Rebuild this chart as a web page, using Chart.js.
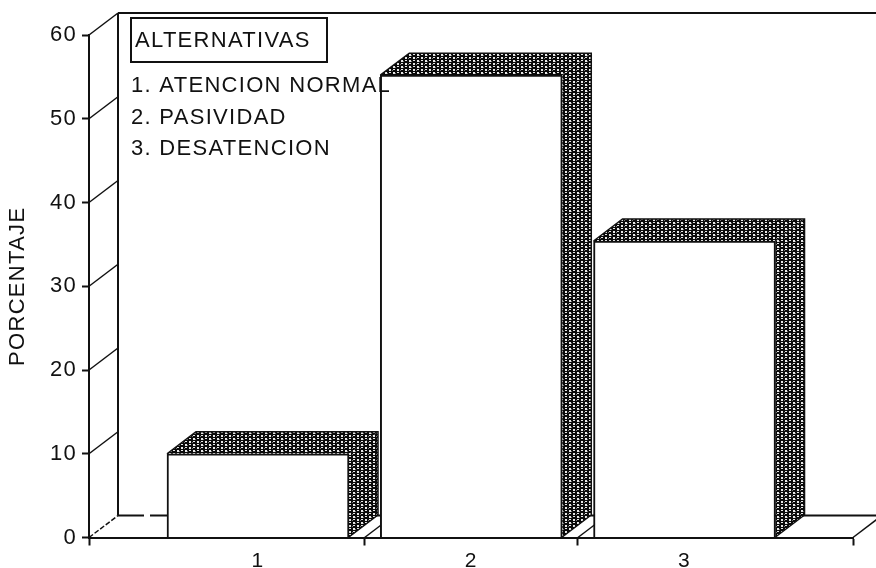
<!DOCTYPE html>
<html>
<head>
<meta charset="utf-8">
<script src="https://cdn.jsdelivr.net/npm/chart.js@4"></script>
<style>
html,body{margin:0;padding:0;background:#fff;overflow:hidden}
canvas{display:block}
</style>
</head>
<body>
<canvas id="c" width="876" height="568"></canvas>
<script>
const categories = [1, 2, 3];
const values = [10, 55.2, 35.4];
const yTicks = [0, 10, 20, 30, 40, 50, 60];
const yTitle = 'PORCENTAJE';
const legendTitle = 'ALTERNATIVAS';
const legendItems = ['1. ATENCION NORMAL', '2. PASIVIDAD', '3. DESATENCION'];

const DEPTH_X = 29, DEPTH_Y = 22;
const INK = '#111';
const FONT = '"Liberation Sans", Arial, sans-serif';

function stipple(ctx) {
  const t = document.createElement('canvas');
  t.width = 8; t.height = 6;
  const g = t.getContext('2d');
  g.fillStyle = '#0a0a0a'; g.fillRect(0, 0, 8, 6);
  g.fillStyle = '#e8e8e8';
  g.fillRect(1, 0, 2, 2);
  g.fillRect(5, 0, 2, 1);
  g.fillRect(5, 3, 2, 2);
  g.fillRect(1, 3, 2, 1);
  g.fillStyle = '#777';
  g.fillRect(3, 1, 1, 1);
  g.fillRect(0, 4, 1, 1);
  return ctx.createPattern(t, 'repeat');
}
function line(ctx, pts, w, dash) {
  ctx.save();
  ctx.strokeStyle = INK; ctx.lineWidth = w || 1.5;
  ctx.setLineDash(dash || []);
  ctx.beginPath();
  pts.forEach((p, i) => i ? ctx.lineTo(p[0], p[1]) : ctx.moveTo(p[0], p[1]));
  ctx.stroke();
  ctx.restore();
}
function face(ctx, pts, fill) {
  ctx.fillStyle = fill;
  ctx.beginPath();
  pts.forEach((p, i) => i ? ctx.lineTo(p[0], p[1]) : ctx.moveTo(p[0], p[1]));
  ctx.closePath();
  ctx.fill();
}

const depthPlugin = {
  id: 'depth',
  beforeDraw(chart) { chart.ctx.letterSpacing = '1.3px'; },
  beforeDatasetsDraw(chart) {
    const ctx = chart.ctx, x = chart.scales.x, y = chart.scales.y;
    const x0 = x.left, x1 = x.right, y0 = y.getPixelForValue(0), yTop = y.getPixelForValue(60);
    // back wall and floor
    line(ctx, [[x0 + DEPTH_X, y0 - DEPTH_Y], [x0 + DEPTH_X, yTop - DEPTH_Y]], 2);
    line(ctx, [[x0 + DEPTH_X, yTop - DEPTH_Y], [chart.width, yTop - DEPTH_Y]], 2);
    line(ctx, [[x0 + DEPTH_X, y0 - DEPTH_Y], [x0 + DEPTH_X + 26, y0 - DEPTH_Y]], 2);
    line(ctx, [[x0 + DEPTH_X + 32, y0 - DEPTH_Y], [x1 + DEPTH_X, y0 - DEPTH_Y]], 2);
    // side wall gridlines
    yTicks.forEach(v => {
      const p = y.getPixelForValue(v);
      line(ctx, [[x0, p], [x0 + DEPTH_X, p - DEPTH_Y]], 1.5, v === 0 ? [5, 2] : null);
    });
    // floor lines from the category boundaries
    [1.5, 2.5, x.max].forEach(v => {
      const p = x.getPixelForValue(v);
      line(ctx, [[p, y0], [p + DEPTH_X, y0 - DEPTH_Y]], 1.5);
    });
    // bar top and side faces
    const fill = stipple(ctx);
    chart.getDatasetMeta(0).data.forEach(b => {
      const l = b.x - b.width / 2, r = b.x + b.width / 2, t = b.y, bt = b.base;
      face(ctx, [[l, t], [l + DEPTH_X, t - DEPTH_Y], [r + DEPTH_X, t - DEPTH_Y], [r, t]], fill);
      face(ctx, [[r, t], [r + DEPTH_X, t - DEPTH_Y], [r + DEPTH_X, bt - DEPTH_Y], [r, bt]], fill);
      line(ctx, [[l, t], [l + DEPTH_X, t - DEPTH_Y], [r + DEPTH_X, t - DEPTH_Y], [r + DEPTH_X, bt - DEPTH_Y], [r, bt]], 1.5);
    });
  },
  afterDatasetsDraw(chart) {
    const ctx = chart.ctx;
    ctx.save();
    ctx.fillStyle = '#fff'; ctx.strokeStyle = INK; ctx.lineWidth = 2;
    ctx.fillRect(131, 18, 196, 44);
    ctx.strokeRect(131, 18, 196, 44);
    ctx.fillStyle = INK;
    ctx.textAlign = 'left'; ctx.textBaseline = 'alphabetic';
    ctx.font = '22px ' + FONT;
    ctx.letterSpacing = '1.3px';
    ctx.fillText(legendTitle, 135, 47);
    [92, 124, 155].forEach((yy, i) => ctx.fillText(legendItems[i], 131, yy));
    ctx.restore();
  }
};

new Chart(document.getElementById('c'), {
  type: 'bar',
  data: {
    datasets: [{
      data: categories.map((c, i) => ({ x: c, y: values[i] })),
      backgroundColor: '#fff',
      borderColor: INK,
      borderWidth: 2,
      barThickness: 182
    }]
  },
  plugins: [depthPlugin],
  options: {
    responsive: false,
    animation: false,
    layout: { padding: { top: 35, right: 23, bottom: 0, left: 0 } },
    plugins: { legend: { display: false }, tooltip: { enabled: false } },
    scales: {
      x: {
        type: 'linear',
        offset: false,
        min: 0.2075,
        max: 3.79,
        afterBuildTicks(s) {
          s.ticks = [s.min, 1, 1.5, 2, 2.5, 3, s.max].map(v => ({ value: v }));
        },
        afterFit(s) { s.height = 30.5; },
        border: { color: INK, width: 2 },
        grid: {
          offset: false,
          drawOnChartArea: false,
          tickLength: 8,
          tickWidth: 2,
          tickColor: c => (c.tick && categories.includes(c.tick.value)) ? 'rgba(0,0,0,0)' : INK
        },
        ticks: {
          autoSkip: false,
          maxRotation: 0,
          padding: 3,
          color: INK,
          font: { family: FONT, size: 21 },
          callback: v => categories.includes(v) ? String(v) : ''
        }
      },
      y: {
        min: 0,
        max: 60,
        afterBuildTicks(s) { s.ticks = yTicks.map(v => ({ value: v })); },
        afterFit(s) { s.width = 89; },
        border: { color: INK, width: 2 },
        grid: { drawOnChartArea: false, tickLength: 7, tickWidth: 2, tickColor: INK },
        ticks: { padding: 5, color: INK, font: { family: FONT, size: 22 } },
        title: {
          display: true,
          text: yTitle,
          color: INK,
          font: { family: FONT, size: 22 },
          padding: { top: 5, bottom: 0 }
        }
      }
    }
  }
});
</script>
</body>
</html>
